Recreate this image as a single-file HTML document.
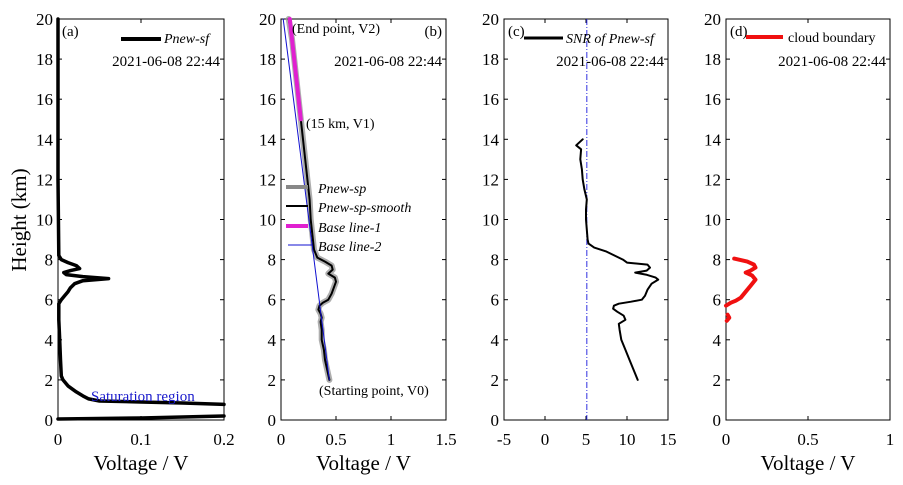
<!DOCTYPE html>
<html><head><meta charset="utf-8"><style>
html,body{margin:0;padding:0;background:#fff}
svg{display:block;font-family:"Liberation Serif",serif}
</style></head><body>
<svg id="c" width="903" height="485"></svg>
<script>
// ---- data ----
const aHeights=[20,12,8.2,8,7.85,7.7,7.55,7.45,7.35,7.25,7.15,7.05,6.95,6.8,6.6,6.4,6.2,6.0,5.8,5,4,3,2.2,2,1.7,1.4,1.2,1.05,0.95,0.9,0.85,0.78];
const aVolt=[0,0,0.001,0.004,0.012,0.022,0.026,0.015,0.007,0.01,0.03,0.061,0.03,0.02,0.015,0.012,0.008,0.004,0.001,0.001,0.002,0.003,0.004,0.006,0.012,0.022,0.03,0.037,0.05,0.1,0.15,0.2];
const aLowHeights=[0.05,0.1,0.2];
const aLowVolt=[0,0.1,0.2];
const bHeights=[20,19,18,17,16,15,14,13,12,11,10,9,8.5,8.1,7.9,7.7,7.5,7.3,7.1,6.9,6.6,6.3,6,5.85,5.7,5.5,5.3,5.1,4.9,4.5,4,3.5,3,2.5,2];
const bVolt=[0.07,0.1,0.12,0.14,0.16,0.18,0.2,0.22,0.24,0.26,0.27,0.29,0.3,0.33,0.4,0.46,0.47,0.43,0.49,0.5,0.48,0.46,0.43,0.38,0.35,0.34,0.36,0.37,0.36,0.37,0.37,0.39,0.4,0.42,0.44];
const base1=[[0.08,20],[0.18,15]];
const base2=[[0.02,20],[0.44,2]];
const cHeights=[14,13.7,13.5,13,12.5,12,11.5,11,10.5,10,9.5,9,8.8,8.6,8.4,8.2,8,7.85,7.75,7.6,7.45,7.35,7.25,7.1,7,6.8,6.5,6.2,6,5.9,5.8,5.7,5.55,5.4,5.2,5,4.8,4.5,4,3.5,3,2.5,2];
const cSNR=[4.6,3.8,4.4,4.3,4.5,4.6,4.8,5.1,5,5,5.1,5.2,5.3,6,7.5,8.5,9.5,10,12.5,12.8,12.4,11,12.3,13.5,13.8,13,12.5,12.2,11.8,10.5,9,8.4,8.3,8.8,9.6,9.8,9,9.1,9.3,9.8,10.3,10.8,11.3];
const snrThreshold=5.1;
const dHeights=[8.05,7.9,7.75,7.6,7.45,7.35,7.2,7.0,6.7,6.4,6.1,5.95,5.85,5.75,5.7];
const dVolt=[0.05,0.13,0.17,0.18,0.15,0.12,0.16,0.18,0.15,0.12,0.09,0.06,0.03,0.01,0];
const d2Heights=[5.25,5.1,4.95];
const d2Volt=[0.01,0.02,0.005];
const yTicks=[0,2,4,6,8,10,12,14,16,18,20];
const aXTicks=["0","0.1","0.2"], bXTicks=["0","0.5","1","1.5"], cXTicks=["-5","0","5","10","15"], dXTicks=["0","0.5","1"];

// ---- layout ----
const NS="http://www.w3.org/2000/svg";
const svg=document.getElementById('c');
const TOP=19,BOT=420;
function el(tag,attrs,parent){const e=document.createElementNS(NS,tag);for(const k in attrs)e.setAttribute(k,attrs[k]);(parent||svg).appendChild(e);return e;}
function yS(h){return BOT-(h/20)*(BOT-TOP);}
const panels=[
 {id:'a',x0:58,x1:224,min:0,max:0.2,ticks:aXTicks,labRight:false},
 {id:'b',x0:281,x1:446,min:0,max:1.5,ticks:bXTicks,labRight:true},
 {id:'c',x0:504,x1:668,min:-5,max:15,ticks:cXTicks,labRight:false},
 {id:'d',x0:726,x1:890,min:0,max:1,ticks:dXTicks,labRight:false}];
function xF(p){return v=>p.x0+(v-p.min)/(p.max-p.min)*(p.x1-p.x0);}
panels.forEach(p=>{
  const g=el('g',{});
  
  
  p.g=g;p.xs=xF(p);
  const fr=el('rect',{x:p.x0,y:TOP,width:p.x1-p.x0,height:BOT-TOP,fill:'none',stroke:'#000','stroke-width':1},g);
  
  
  yTicks.forEach(t=>{
    const y=yS(t);
    el('line',{x1:p.x0,x2:p.x0+4,y1:y,y2:y,stroke:'#000'},g);
    el('line',{x1:p.x1,x2:p.x1-4,y1:y,y2:y,stroke:'#000'},g);
    const tx=el('text',{x:p.x0-5,y:y+6,'text-anchor':'end','font-size':17},g);
    tx.textContent=t;
    
    
  });
  p.ticks.forEach(t=>{
    const x=p.xs(parseFloat(t));
    el('line',{x1:x,x2:x,y1:BOT,y2:BOT-4,stroke:'#000'},g);
    el('line',{x1:x,x2:x,y1:TOP,y2:TOP+4,stroke:'#000'},g);
    const tx=el('text',{x:x,y:445,'text-anchor':'middle','font-size':17},g);
    tx.textContent=t;
    
    
  });
  if(p.id!=='c'){
    const xl=el('text',{x:(p.x0+p.x1)/2,y:470,'text-anchor':'middle','font-size':21},g);
    xl.textContent='Voltage / V';
    
    
  }
  const pl=p.labRight?el('text',{x:p.x1-4,y:TOP+17,'font-size':15,'text-anchor':'end'},g):el('text',{x:p.x0+4,y:TOP+17,'font-size':15},g);
  pl.textContent='('+p.id+')';
  
  
  const dt=el('text',{x:p.x1-4,y:TOP+47,'text-anchor':'end','font-size':15},g);
  dt.textContent='2021-06-08 22:44';
  
  
});
function line(p,hs,vs,attrs,name){
  const pts=hs.map((h,i)=>p.xs(vs[i]).toFixed(1)+','+yS(h).toFixed(1)).join(' ');
  const e=el('polyline',Object.assign({points:pts,fill:'none','stroke-linejoin':'round','stroke-linecap':'round'},attrs),p.g);
  
  
  return e;
}
function text(x,y,s,attrs,name,g){const t=el('text',Object.assign({x:x,y:y},attrs),g||svg);t.textContent=s;return t;}
function seg(x1,y1,x2,y2,attrs,name,g){const e=el('line',Object.assign({x1,y1,x2,y2},attrs),g||svg);return e;}

text(0,0,'Height (km)',{'font-size':21,'text-anchor':'middle',transform:'translate(26,220) rotate(-90)'},'y-axis-title');

// panel a
const A=panels[0];
line(A,aHeights,aVolt,{stroke:'#000','stroke-width':3.5},'pnew-sf-line');
line(A,aLowHeights,aLowVolt,{stroke:'#000','stroke-width':3.5},'pnew-sf-low-line');
seg(121,39,161,39,{stroke:'#000','stroke-width':4},'legend-pnew-sf-swatch',A.g);
text(164,43,'Pnew-sf',{'font-size':14,'font-style':'italic'},'legend-pnew-sf',A.g);
text(91,401,'Saturation region',{'font-size':15,fill:'#1a1acc'},'saturation-region-label',A.g);

// panel b
const B=panels[1];
line(B,bHeights,bVolt,{stroke:'#9a9a9a','stroke-width':6,opacity:0.8},'pnew-sp-line');
line(B,bHeights,bVolt,{stroke:'#000','stroke-width':2},'pnew-sp-smooth-line');
line(B,base1.map(d=>d[1]),base1.map(d=>d[0]),{stroke:'#e020d0','stroke-width':4},'base-line-1');
line(B,base2.map(d=>d[1]),base2.map(d=>d[0]),{stroke:'#1010d0','stroke-width':1},'base-line-2');
seg(286,187,308,187,{stroke:'#888','stroke-width':4},'legend-pnew-sp-swatch',B.g);
seg(286,206,308,206,{stroke:'#000','stroke-width':2},'legend-smooth-swatch',B.g);
seg(286,226,308,226,{stroke:'#e020d0','stroke-width':4},'legend-base1-swatch',B.g);
seg(288,245,312,245,{stroke:'#1010d0','stroke-width':1},'legend-base2-swatch',B.g);
text(318,193,'Pnew-sp',{'font-size':14,'font-style':'italic'},'legend-pnew-sp',B.g);
text(318,212,'Pnew-sp-smooth',{'font-size':14,'font-style':'italic'},'legend-pnew-sp-smooth',B.g);
text(318,232,'Base line-1',{'font-size':14,'font-style':'italic'},'legend-base-line-1',B.g);
text(318,251,'Base line-2',{'font-size':14,'font-style':'italic'},'legend-base-line-2',B.g);
text(292,33,'(End point, V2)',{'font-size':14},'end-point-label',B.g);
text(306,128,'(15 km, V1)',{'font-size':14},'v1-label',B.g);
text(319,395,'(Starting point, V0)',{'font-size':14},'start-point-label',B.g);

// panel c
const C=panels[2];
seg(C.xs(snrThreshold),TOP,C.xs(snrThreshold),BOT,{stroke:'#3030e0','stroke-width':1,'stroke-dasharray':'6,2,1,2'},'snr-threshold-line',C.g);
line(C,cHeights,cSNR,{stroke:'#000','stroke-width':2},'snr-line');
seg(524,38,563,38,{stroke:'#000','stroke-width':3},'legend-snr-swatch',C.g);
text(566,43,'SNR of Pnew-sf',{'font-size':14,'font-style':'italic'},'legend-snr',C.g);

// panel d
const D=panels[3];
line(D,dHeights,dVolt,{stroke:'#f01010','stroke-width':4},'cloud-boundary-line');
line(D,d2Heights,d2Volt,{stroke:'#f01010','stroke-width':4},'cloud-boundary-lower');
seg(746,37,783,37,{stroke:'#f01010','stroke-width':4},'legend-cloud-swatch',D.g);
text(788,42,'cloud boundary',{'font-size':14},'legend-cloud-boundary',D.g);
</script>
</body></html>
